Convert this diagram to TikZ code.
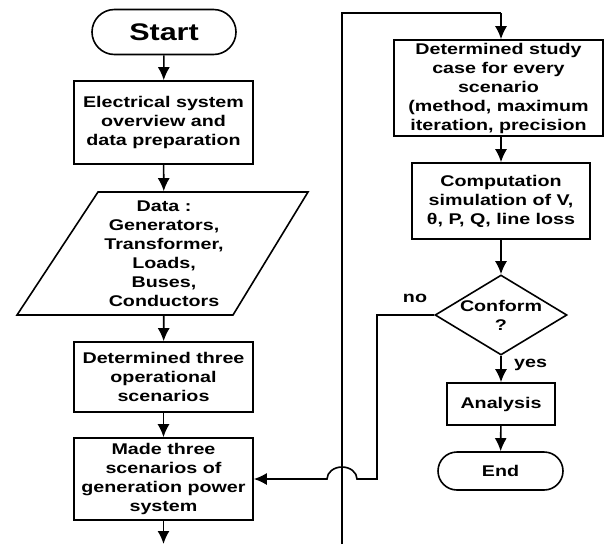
\documentclass[tikz,border=0pt]{standalone}
\usepackage{fontspec}
\setmainfont{Liberation Sans}[FakeStretch=1.27]
\usepackage{tikz}
\usetikzlibrary{arrows.meta,shapes.geometric,shapes.misc}

\tikzset{
  line/.style={line width=1.6pt},
  arr/.style={line, -{Latex[length=13pt,width=12pt]}},
  box/.style={draw, line, rectangle, align=center, inner sep=0pt,
    font=\bfseries\fontsize{15.5}{19}\selectfont},
  term/.style={draw, line, rounded rectangle, inner sep=0pt},
  decide/.style={draw, line, diamond, inner sep=0pt, align=center,
    font=\bfseries\fontsize{15.5}{19}\selectfont},
  lbl/.style={font=\bfseries\fontsize{15.5}{19}\selectfont},
}

\begin{document}
\begin{tikzpicture}[x=1pt,y=-1pt]
\useasboundingbox (0,0) rectangle (604,544);

% left column
\node [term, minimum width=144pt, minimum height=45pt,
  font=\bfseries\fontsize{24}{26}\selectfont] (start) at (164,32) {Start};
\node [box, minimum width=179pt, minimum height=83pt] (elec) at (163.5,122.5)
  {Electrical system\\overview and\\data preparation};
\draw [line] (98,192) -- (308,192) -- (233,315) -- (17,315) -- cycle;
\node [box, draw=none, minimum height=123pt] (data) at (164,253.5)
  {Data :\\Generators,\\Transformer,\\Loads,\\Buses,\\Conductors};
\node [box, minimum width=179pt, minimum height=70pt] (three) at (163.5,377)
  {Determined three\\operational\\scenarios};
\node [box, minimum width=179pt, minimum height=82pt] (made) at (163.5,479)
  {Made three\\scenarios of\\generation power\\system};
\coordinate (out) at (163.5,544);

\draw [arr] (start) -- (elec);
\draw [arr] (elec) -- (data);
\draw [arr] (data) -- (three);
\draw [arr] (three) -- (made);
\draw [arr] (made) -- (out);

% right column
\node [box, minimum width=209pt, minimum height=96pt] (study) at (498.5,88)
  {Determined study\\case for every\\scenario\\(method, maximum\\iteration, precision};
\node [box, minimum width=178pt, minimum height=76pt] (comp) at (501,201)
  {Computation\\simulation of V,\\θ, P, Q, line loss};
\node [decide, minimum width=132pt, minimum height=80pt, aspect=1.65] (conform) at (501,315)
  {Conform\\?};
\node [box, minimum width=108pt, minimum height=42pt] (anal) at (501,404) {Analysis};
\node [term, minimum width=125pt, minimum height=38pt,
  font=\bfseries\fontsize{15.5}{19}\selectfont] (end) at (500.5,471) {End};

\coordinate (top) at (342,13);
\coordinate (bot) at (342,544);
\draw [line] (bot) -- (top) -- (501,13);
\draw [arr] (501,13) -- (study.north -| comp);
\draw [arr] (study.south -| comp) -- (comp);
\draw [arr] (comp) -- (conform);
\draw [arr] (conform) -- (anal) node [lbl, pos=0.35, right=9pt] {yes};
\draw [arr] (anal) -- (end);
\draw [arr] (conform.west) -- (377,315) -- (377,479) -- (357,479)
  arc [start angle=0, end angle=180, x radius=15pt, y radius=12pt]
  -- (made.east);
\node [lbl] (no) at (415,298) {no};
\end{tikzpicture}
\end{document}
